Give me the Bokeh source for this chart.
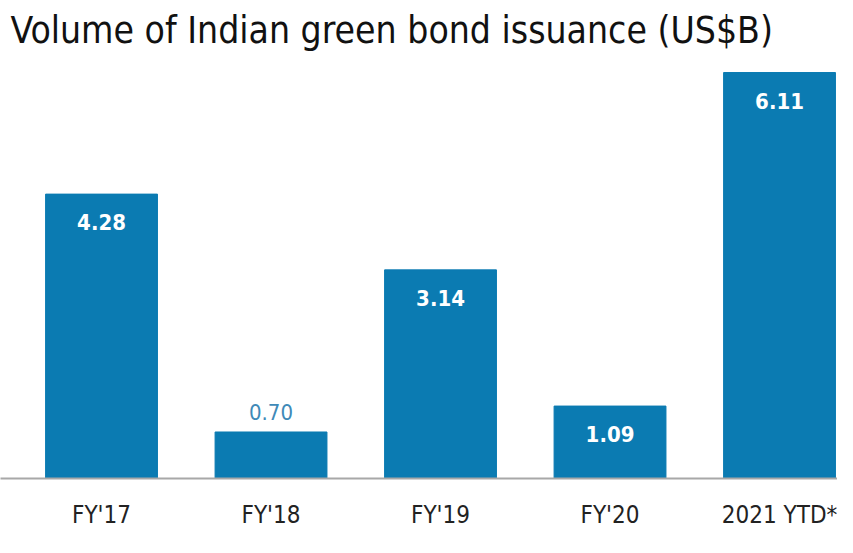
from bokeh.plotting import figure
from bokeh.models import ColumnDataSource, Range1d, FixedTicker
from bokeh.core.properties import value
from bokeh.embed import file_html
from bokeh.resources import INLINE

categories = ["FY'17", "FY'18", "FY'19", "FY'20", "2021 YTD*"]
volumes = [4.28, 0.70, 3.14, 1.09, 6.11]
labels = ["4.28", "0.70", "3.14", "1.09", "6.11"]

BAR = "#0b7bb2"
FONT = "DejaVu Sans Condensed"

xs = list(range(len(categories)))
src = ColumnDataSource(dict(x=xs, top=volumes, label=labels))

inside = [i for i, v in enumerate(volumes) if v >= 1]
outside = [i for i, v in enumerate(volumes) if v < 1]
src_in = ColumnDataSource(dict(x=[xs[i] for i in inside], y=[volumes[i] for i in inside],
                               label=[labels[i] for i in inside]))
src_out = ColumnDataSource(dict(x=[xs[i] for i in outside], y=[volumes[i] for i in outside],
                                label=[labels[i] for i in outside]))

p = figure(width=837, height=537, output_backend="svg", toolbar_location=None,
           x_range=Range1d(-0.596, 4.342), y_range=Range1d(0, 6.336),
           min_border_left=0, min_border_right=0, min_border_bottom=59, min_border_top=57)

p.title.text = "Volume of Indian green bond issuance (US$B)"
p.title.text_font = FONT
p.title.text_font_size = "37px"
p.title.text_font_style = "normal"
p.title.text_color = "#111111"
p.title.text_line_height = 0.7
p.title.offset = 10
p.title.standoff = 8
p.title.vertical_align = "top"

p.vbar(x="x", top="top", width=0.66, bottom=0, source=src, color=BAR)

p.text(x="x", y="y", text="label", source=src_in, text_color="white",
       text_font=value(FONT), text_font_style="bold", text_font_size="22px",
       text_align="center", text_baseline="middle", y_offset=28)
p.text(x="x", y="y", text="label", source=src_out, text_color="#3f8ab8",
       text_font=value(FONT), text_font_size="22px",
       text_align="center", text_baseline="middle", y_offset=-20)

p.xaxis.ticker = FixedTicker(ticks=xs)
p.xaxis.major_label_overrides = {i: c for i, c in enumerate(categories)}
p.xaxis.major_label_text_font = FONT
p.xaxis.major_label_text_font_size = "24px"
p.xaxis.major_label_text_color = "#222222"
p.xaxis.major_tick_out = 0
p.xaxis.major_tick_in = 0
p.xaxis.axis_label_standoff = 0
p.xaxis.major_label_standoff = 22
p.xaxis.major_tick_line_color = None
p.xaxis.minor_tick_line_color = None
p.xaxis.axis_line_color = "#a8a8a8"
p.xaxis.axis_line_width = 2

p.yaxis.visible = False
p.grid.visible = False
p.outline_line_color = None

open("out.html", "w").write(file_html(p, INLINE))
